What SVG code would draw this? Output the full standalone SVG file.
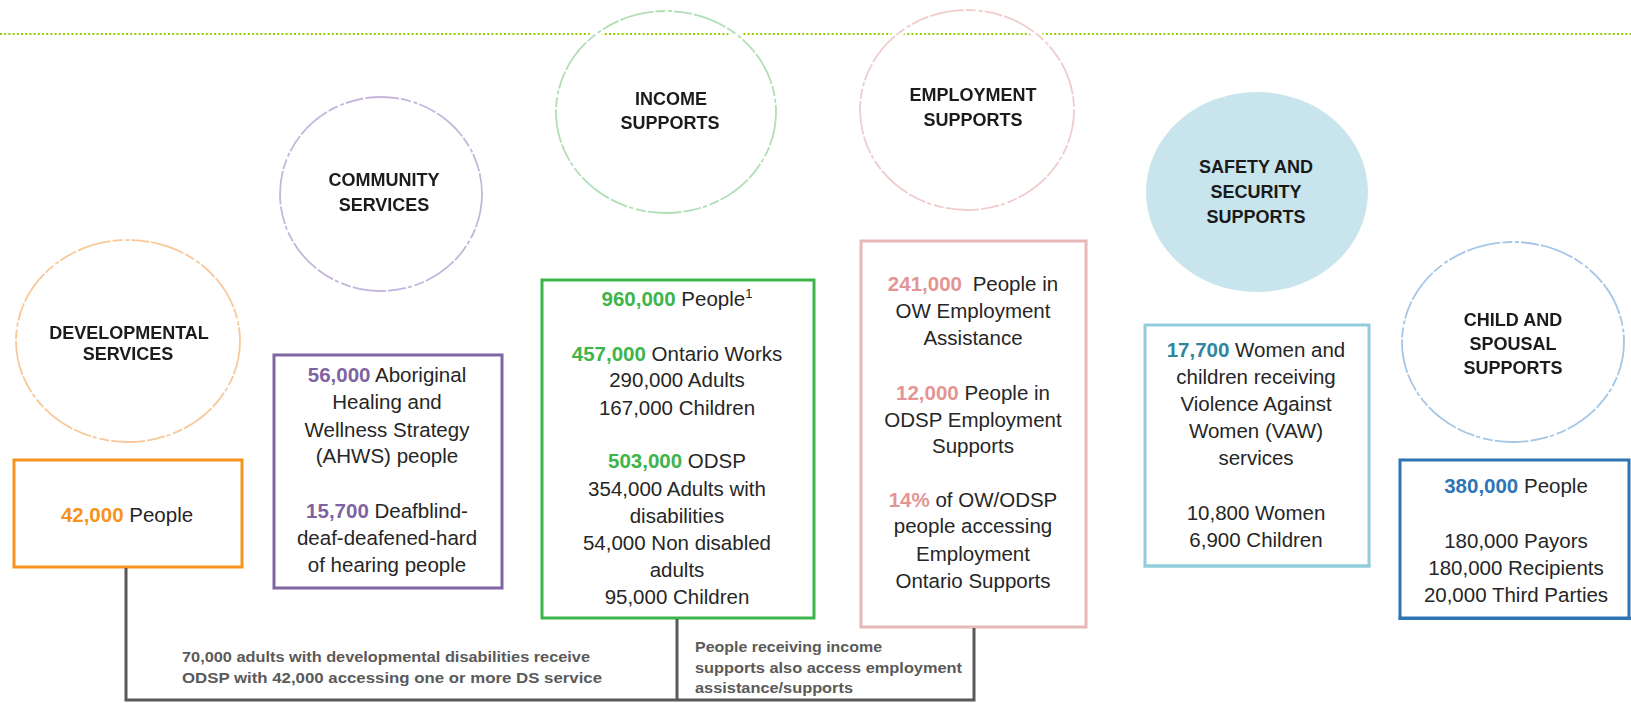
<svg xmlns="http://www.w3.org/2000/svg" width="1631" height="703" viewBox="0 0 1631 703">
<defs>
<style>
.bg{fill:#ffffff}
.dots{stroke:#99cc00;stroke-width:2.2;stroke-dasharray:2 2.2;fill:none}
.halo{fill:none;stroke:#ffffff;stroke-width:8}
.ring{fill:none;stroke-width:1.8;stroke-dasharray:34 2 10 3 4 2 18 2}
.head{font-family:"Liberation Sans",Arial,sans-serif;font-weight:bold;font-size:18px;fill:#1a1a1a;text-anchor:middle}
.headb{filter:url(#soft)}
.box{fill:#ffffff;stroke-width:3}
.t{font-family:"Liberation Sans",Arial,sans-serif;font-size:20.5px;fill:#262626;text-anchor:middle}
.n{font-weight:bold}
.conn{fill:none;stroke:#595959;stroke-width:3}
.note{font-family:"Liberation Sans",Arial,sans-serif;font-weight:bold;fill:#5a5a5a}
</style>
<filter id="soft" x="-10%" y="-30%" width="120%" height="160%">
<feGaussianBlur stdDeviation="0.5"/>
</filter>
</defs>
<rect class="bg" x="0" y="0" width="1631" height="703"/>
<line class="dots" x1="0" y1="34" x2="1631" y2="34"/>

<g id="developmental-services">
<ellipse class="halo" cx="128" cy="341" rx="112" ry="101"/>
<ellipse class="ring" cx="128" cy="341" rx="112" ry="101" stroke="#f8c898"/>
<text class="head headb" x="129" y="339">DEVELOPMENTAL</text>
<text class="head headb" x="128" y="360">SERVICES</text>
<rect class="box" x="14" y="460" width="228" height="107" stroke="#f7941d"/>
<text class="t" x="127" y="522"><tspan class="n" fill="#f7941d">42,000</tspan> People</text>
</g>

<g id="community-services">
<ellipse class="halo" cx="381" cy="194" rx="101" ry="97"/>
<ellipse class="ring" cx="381" cy="194" rx="101" ry="97" stroke="#c4b6dc"/>
<text class="head headb" x="384" y="186">COMMUNITY</text>
<text class="head headb" x="384" y="211">SERVICES</text>
<rect class="box" x="274" y="355" width="228" height="233" stroke="#8064a2"/>
<text class="t" x="387" y="382"><tspan class="n" fill="#8064a2">56,000</tspan> Aboriginal</text>
<text class="t" x="387" y="409">Healing and</text>
<text class="t" x="387" y="437">Wellness Strategy</text>
<text class="t" x="387" y="463">(AHWS) people</text>
<text class="t" x="387" y="518"><tspan class="n" fill="#8064a2">15,700</tspan> Deafblind-</text>
<text class="t" x="387" y="545">deaf-deafened-hard</text>
<text class="t" x="387" y="572">of hearing people</text>
</g>

<g id="income-supports">
<ellipse class="halo" cx="666" cy="112" rx="110" ry="101"/>
<ellipse class="ring" cx="666" cy="112" rx="110" ry="101" stroke="#b0dfb6"/>
<text class="head headb" x="671" y="105">INCOME</text>
<text class="head headb" x="670" y="129">SUPPORTS</text>
<rect class="box" x="542" y="280" width="272" height="338" stroke="#3db54a" stroke-width="3.5"/>
<text class="t" x="677" y="306"><tspan class="n" fill="#3db54a">960,000</tspan> People<tspan font-size="13" dy="-8">1</tspan></text>
<text class="t" x="677" y="361"><tspan class="n" fill="#3db54a">457,000</tspan> Ontario Works</text>
<text class="t" x="677" y="387">290,000 Adults</text>
<text class="t" x="677" y="415">167,000 Children</text>
<text class="t" x="677" y="468"><tspan class="n" fill="#3db54a">503,000</tspan> ODSP</text>
<text class="t" x="677" y="496">354,000 Adults with</text>
<text class="t" x="677" y="523">disabilities</text>
<text class="t" x="677" y="550">54,000 Non disabled</text>
<text class="t" x="677" y="577">adults</text>
<text class="t" x="677" y="604">95,000 Children</text>
</g>

<g id="employment-supports">
<ellipse class="halo" cx="967" cy="110" rx="107" ry="100"/>
<ellipse class="ring" cx="967" cy="110" rx="107" ry="100" stroke="#f0cccc"/>
<text class="head headb" x="973" y="101">EMPLOYMENT</text>
<text class="head headb" x="973" y="126">SUPPORTS</text>
<rect class="box" x="861" y="241" width="225" height="386" stroke="#e6b8b7"/>
<text class="t" x="973" y="291"><tspan class="n" fill="#e39594">241,000</tspan><tspan dx="5"> People in</tspan></text>
<text class="t" x="973" y="318">OW Employment</text>
<text class="t" x="973" y="345">Assistance</text>
<text class="t" x="973" y="400"><tspan class="n" fill="#e39594">12,000</tspan> People in</text>
<text class="t" x="973" y="427">ODSP Employment</text>
<text class="t" x="973" y="453">Supports</text>
<text class="t" x="973" y="507"><tspan class="n" fill="#e39594">14%</tspan> of OW/ODSP</text>
<text class="t" x="973" y="533">people accessing</text>
<text class="t" x="973" y="561">Employment</text>
<text class="t" x="973" y="588">Ontario Supports</text>
</g>

<g id="safety-and-security-supports">
<ellipse class="halo" cx="1257" cy="192" rx="111" ry="100"/>
<ellipse cx="1257" cy="192" rx="111" ry="100" fill="#c8e4ec"/>
<text class="head" x="1256" y="173">SAFETY AND</text>
<text class="head" x="1256" y="198">SECURITY</text>
<text class="head" x="1256" y="223">SUPPORTS</text>
<rect class="box" x="1145" y="325" width="224" height="241" stroke="#92cddc"/>
<line x1="1143.5" y1="566" x2="1370.5" y2="566" stroke="#92cddc" stroke-width="3"/>
<text class="t" x="1256" y="357"><tspan class="n" fill="#31859c">17,700</tspan> Women and</text>
<text class="t" x="1256" y="384">children receiving</text>
<text class="t" x="1256" y="411">Violence Against</text>
<text class="t" x="1256" y="438">Women (VAW)</text>
<text class="t" x="1256" y="465">services</text>
<text class="t" x="1256" y="520">10,800 Women</text>
<text class="t" x="1256" y="547">6,900 Children</text>
</g>

<g id="child-and-spousal-supports">
<ellipse class="halo" cx="1513" cy="342" rx="111" ry="100"/>
<ellipse class="ring" cx="1513" cy="342" rx="111" ry="100" stroke="#a5c6e6"/>
<text class="head headb" x="1513" y="326">CHILD AND</text>
<text class="head headb" x="1513" y="350">SPOUSAL</text>
<text class="head headb" x="1513" y="374">SUPPORTS</text>
<rect class="box" x="1400" y="460" width="229" height="158" stroke="#2e75b6"/>
<line x1="1398.5" y1="618.5" x2="1631" y2="618.5" stroke="#2e75b6" stroke-width="3"/>
<text class="t" x="1516" y="493"><tspan class="n" fill="#2e75b6">380,000</tspan> People</text>
<text class="t" x="1516" y="548">180,000 Payors</text>
<text class="t" x="1516" y="575">180,000 Recipients</text>
<text class="t" x="1516" y="602">20,000 Third Parties</text>
</g>

<g id="connectors">
<polyline class="conn" points="126,568 126,700 974,700 974,628"/>
<line class="conn" x1="677" y1="619" x2="677" y2="700"/>
<text class="note" x="182" y="662" font-size="15" textLength="408" lengthAdjust="spacingAndGlyphs">70,000 adults with developmental disabilities receive</text>
<text class="note" x="182" y="683" font-size="15" textLength="420" lengthAdjust="spacingAndGlyphs">ODSP with 42,000 accessing one or more DS service</text>
<text class="note" x="695" y="652" font-size="15.5" textLength="187" lengthAdjust="spacingAndGlyphs">People receiving income</text>
<text class="note" x="695" y="673" font-size="15.5" textLength="267" lengthAdjust="spacingAndGlyphs">supports also access employment</text>
<text class="note" x="695" y="693" font-size="15.5" textLength="158" lengthAdjust="spacingAndGlyphs">assistance/supports</text>
</g>
</svg>
